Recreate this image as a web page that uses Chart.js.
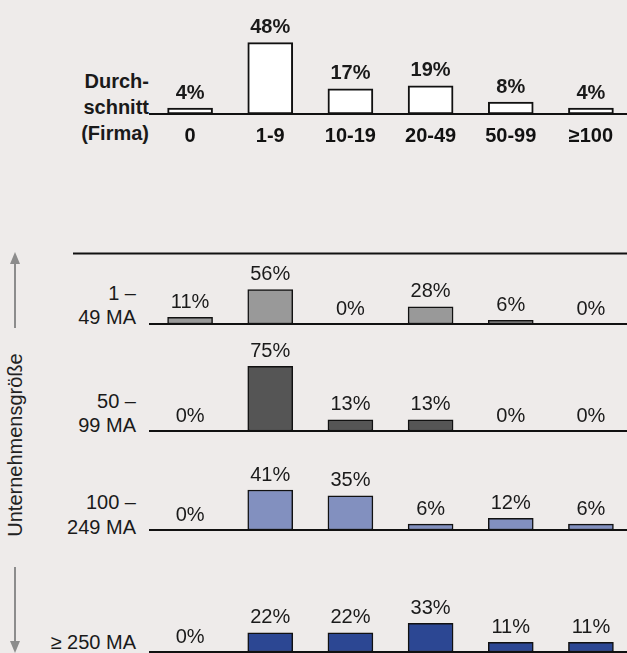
<!DOCTYPE html>
<html>
<head>
<meta charset="utf-8">
<script src="https://cdn.jsdelivr.net/npm/chart.js@4"></script>
<style>
  html, body { margin: 0; padding: 0; }
  body { width: 627px; height: 653px; overflow: hidden; background: #eeebea; position: relative;
         font-family: "Liberation Sans", Arial, sans-serif; color: #1a1a1a; }
  canvas { position: absolute; left: 0; }
  .lbl { position: absolute; text-align: right; font-size: 20px; white-space: nowrap; }
  .rot { position: absolute; left: 15px; top: 445px; font-size: 20px; color: #222;
         transform: translate(-50%, -50%) rotate(-90deg); white-space: nowrap; }
  svg { position: absolute; left: 0; top: 0; }
</style>
</head>
<body>
<svg width="627" height="653">
  <line x1="73" y1="253.5" x2="627" y2="253.5" stroke="#111" stroke-width="2"/>
  <line x1="15" y1="328" x2="15" y2="262" stroke="#8c8c8c" stroke-width="2"/>
  <polygon points="10,264 20,264 15,252" fill="#8c8c8c"/>
  <line x1="15" y1="567" x2="15" y2="643" stroke="#8c8c8c" stroke-width="2"/>
  <polygon points="10,641 20,641 15,653" fill="#8c8c8c"/>
</svg>
<div class="rot">Unternehmensgröße</div>
<div class="lbl" style="right:478px; top:68px; line-height:26px; font-weight:bold;">Durch-<br>schnitt<br>(Firma)</div>
<div class="lbl" style="right:491px; top:281px; line-height:24px;">1 –<br>49 MA</div>
<div class="lbl" style="right:491px; top:389px; line-height:24px;">50 –<br>99 MA</div>
<div class="lbl" style="right:491px; top:490px; line-height:25px;">100 –<br>249 MA</div>
<div class="lbl" style="right:491px; top:630px; line-height:24px;">≥ 250 MA</div>

<canvas id="cTop" width="627" height="160" style="top:0px"></canvas>
<canvas id="c1" width="627" height="72" style="top:254px"></canvas>
<canvas id="c2" width="627" height="107" style="top:326px"></canvas>
<canvas id="c3" width="627" height="99" style="top:433px"></canvas>
<canvas id="c4" width="627" height="122" style="top:532px"></canvas>

<script>
const categories = ['0', '1-9', '10-19', '20-49', '50-99', '≥100'];
const averageValues = [4, 48, 17, 19, 8, 4];
const size1to49 = [11, 56, 0, 28, 6, 0];
const size50to99 = [0, 75, 13, 13, 0, 0];
const size100to249 = [0, 41, 35, 6, 12, 6];
const size250plus = [0, 22, 22, 33, 11, 11];

const FONT = '"Liberation Sans", Arial, sans-serif';

const valueLabels = {
  id: 'valueLabels',
  afterDatasetsDraw(chart, args, opts) {
    const ctx = chart.ctx;
    const meta = chart.getDatasetMeta(0);
    const data = chart.data.datasets[0].data;
    ctx.save();
    ctx.font = opts.font;
    ctx.fillStyle = opts.color;
    ctx.textAlign = 'center';
    ctx.textBaseline = 'middle';
    meta.data.forEach((bar, i) => {
      ctx.fillText(data[i].y + '%', bar.x, bar.y - 15);
    });
    ctx.restore();
  }
};

function makeChart(id, values, cfg) {
  const pts = values.map((v, i) => ({ x: i, y: v }));
  return new Chart(document.getElementById(id), {
    type: 'bar',
    data: {
      datasets: [{
        data: pts,
        backgroundColor: cfg.fill,
        borderColor: '#111',
        borderWidth: cfg.border,
        borderSkipped: false,
        barThickness: 45
      }]
    },
    options: {
      responsive: false,
      animation: false,
      devicePixelRatio: 1,
      layout: { padding: { left: 150, right: 0, top: cfg.padTop, bottom: cfg.padBottom } },
      plugins: {
        legend: { display: false },
        tooltip: { enabled: false },
        valueLabels: { font: cfg.labelFont, color: '#1a1a1a' }
      },
      scales: {
        x: {
          type: 'linear',
          min: -0.5,
          max: 5.45,
          offset: false,
          grid: { display: false, drawTicks: false, offset: false },
          border: { display: true, color: '#111', width: 2 },
          afterBuildTicks: (axis) => { axis.ticks = categories.map((c, i) => ({ value: i })); },
          ticks: {
            display: cfg.showTicks,
            autoSkip: false,
            maxRotation: 0,
            minRotation: 0,
            padding: 10,
            color: '#111',
            font: { family: FONT, size: 20, weight: 'bold', lineHeight: 1.2 },
            callback: (v) => categories[v]
          }
        },
        y: {
          display: false,
          min: 0,
          max: cfg.yMax
        }
      }
    },
    plugins: [valueLabels]
  });
}

makeChart('cTop', averageValues, {
  fill: '#ffffff', border: 2, padTop: 10, padBottom: 2, yMax: 70,
  showTicks: true, labelFont: 'bold 20px ' + FONT
});
makeChart('c1', size1to49, {
  fill: '#999999', border: 1.5, padTop: 0, padBottom: 2, yMax: 113.8,
  showTicks: false, labelFont: '20px ' + FONT
});
makeChart('c2', size50to99, {
  fill: '#555555', border: 1.5, padTop: 0, padBottom: 2, yMax: 121.7,
  showTicks: false, labelFont: '20px ' + FONT
});
makeChart('c3', size100to249, {
  fill: '#8290bf', border: 1.5, padTop: 0, padBottom: 2, yMax: 99.4,
  showTicks: false, labelFont: '20px ' + FONT
});
makeChart('c4', size250plus, {
  fill: '#2c4793', border: 1.5, padTop: 0, padBottom: 2, yMax: 138,
  showTicks: false, labelFont: '20px ' + FONT
});
</script>
</body>
</html>
